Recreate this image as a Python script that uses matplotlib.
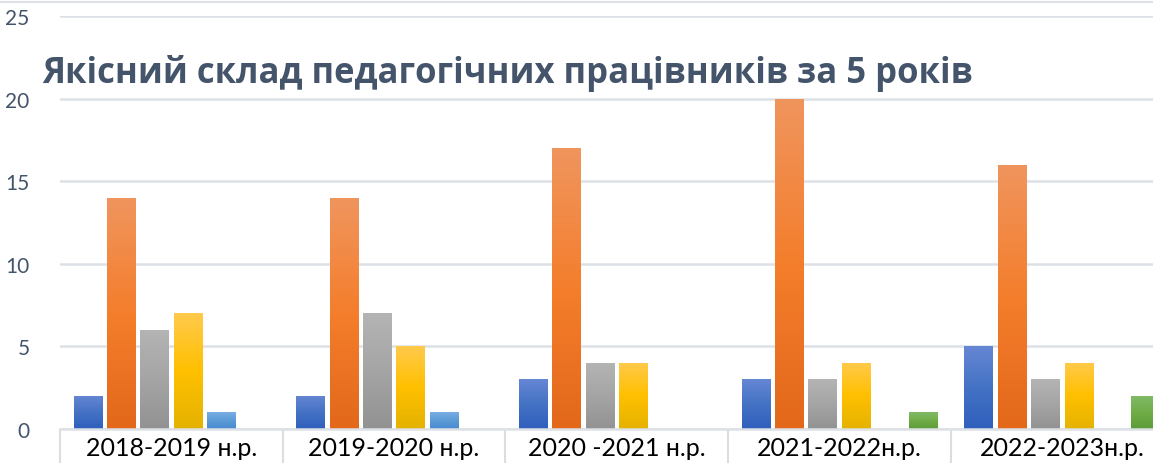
import matplotlib
matplotlib.use('Agg')
import matplotlib.pyplot as plt
import numpy as np
from matplotlib.colors import LinearSegmentedColormap
from matplotlib.lines import Line2D

# data
years = ['2018-2019 н.р.', '2019-2020 н.р.', '2020 -2021 н.р.',
         '2021-2022н.р.', '2022-2023н.р.']
s1 = [2, 2, 3, 3, 5]       # blue
s2 = [14, 14, 17, 20, 16]  # orange
s3 = [6, 7, 4, 3, 3]       # gray
s4 = [7, 5, 4, 4, 4]       # yellow
s5 = [1, 1, 0, 0, 0]       # light blue
s6 = [0, 0, 0, 1, 2]       # green
yticks = [0, 5, 10, 15, 20, 25]

series = [s1, s2, s3, s4, s5, s6]
# gradient stops: top, middle, bottom
grads = [
    ['#6687d4', '#4472c4', '#2f5fbd'],
    ['#f0955e', '#f47e2c', '#e3681a'],
    ['#b4b4b4', '#a5a5a5', '#929292'],
    ['#ffca4c', '#ffc000', '#e4b200'],
    ['#7aaee4', '#5b9bd5', '#4a8ad0'],
    ['#82ba68', '#70ad47', '#5c9c38'],
]

fig = plt.figure(figsize=(11.53, 4.64), dpi=100)
ax = fig.add_axes([60/1153, 34/464, 1113.5/1153, 413/464])

x = np.arange(len(years))
step = 0.15
w = 0.128
grad = np.linspace(1, 0, 256).reshape(-1, 1)
for i, vals in enumerate(series):
    bars = ax.bar(x + (i - 2.5) * step, vals, w, color='none', zorder=2)
    cmap = LinearSegmentedColormap.from_list('g%d' % i, grads[i][::-1])
    for b in bars:
        if b.get_height() <= 0:
            continue
        x0, y0 = b.get_x(), b.get_y()
        im = ax.imshow(grad, extent=[x0, x0 + b.get_width(), y0, y0 + b.get_height()],
                       aspect='auto', cmap=cmap, vmin=0, vmax=1, zorder=2)
        im.set_clip_path(b)

ax.set_xlim(-0.5, len(years) - 0.5)
ax.set_ylim(0, 25)
ax.set_yticks(yticks)
ax.set_xticks(x)
ax.set_xticklabels(years, fontsize=18, family='Lato', color='black')
ax.set_xticks(np.arange(len(years) + 1) - 0.5, minor=True)
ax.tick_params(axis='x', which='major', length=0, pad=5)
ax.tick_params(axis='x', which='minor', length=40, width=1.5, color='#dadde2')
ax.tick_params(axis='y', length=0, pad=22, labelsize=15, labelcolor='#44546a')
for lbl in ax.get_yticklabels():
    lbl.set_family('Lato')
ax.grid(axis='y', color='#dde1e6', lw=1.8, zorder=0)
for sp in ['top', 'right', 'left']:
    ax.spines[sp].set_visible(False)
ax.spines['bottom'].set_color('#dde1e6')
ax.spines['bottom'].set_linewidth(1.8)

# chart border line at top
fig.add_artist(Line2D([0, 1], [1 - 3/464, 1 - 3/464], color='#dde1e6', lw=1.5))

fig.text(42/1153, 1 - 83/464, 'Якісний склад педагогічних працівників за 5 років',
         fontsize=24.9, fontweight='bold', family='Open Sans', color='#44546a',
         va='baseline', ha='left')

plt.savefig('out.png', dpi=100)
